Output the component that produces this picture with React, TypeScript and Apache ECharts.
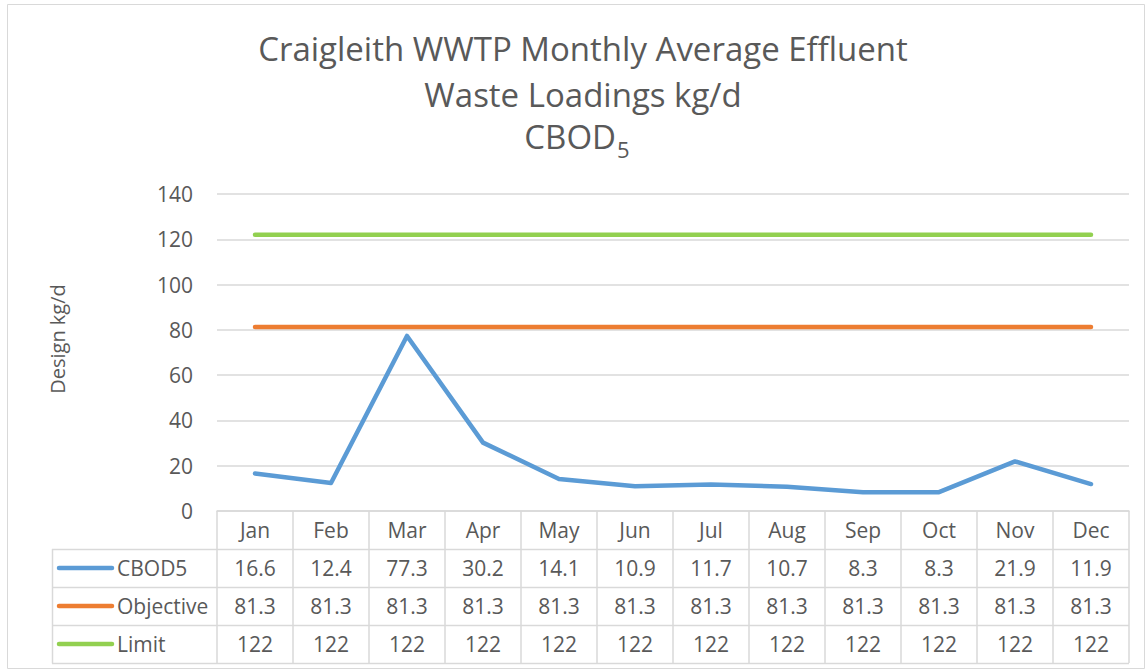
import React, { useEffect, useRef } from "react";
import * as echarts from "echarts";

const months = ["Jan", "Feb", "Mar", "Apr", "May", "Jun", "Jul", "Aug", "Sep", "Oct", "Nov", "Dec"];
const cbod5 = [16.6, 12.4, 77.3, 30.2, 14.1, 10.9, 11.7, 10.7, 8.3, 8.3, 21.9, 11.9];
const objective = [81.3, 81.3, 81.3, 81.3, 81.3, 81.3, 81.3, 81.3, 81.3, 81.3, 81.3, 81.3];
const limit = [122, 122, 122, 122, 122, 122, 122, 122, 122, 122, 122, 122];
const seriesNames = ["CBOD5", "Objective", "Limit"];
const seriesColors = ["#5B9BD5", "#ED7D31", "#92D050"];
const yMin = 0;
const yMax = 140;
const yInterval = 20;
const titleLines = ["Craigleith WWTP Monthly Average Effluent", "Waste Loadings kg/d", "CBOD"];
const titleSub = "5";
const yAxisTitle = "Design kg/d";

const W = 1145;
const H = 670;
const FONT = "'Open Sans', 'Noto Sans', sans-serif";
const TXT = "#595959";
const BORDER = "#d9d9d9";
const FS = 21;

export default function App() {
  const ref = useRef<HTMLDivElement>(null);
  useEffect(() => {
    document.body.style.margin = "0";
    const chart = echarts.init(ref.current!, undefined, { renderer: "svg", width: W, height: H });
    const gridLeft = 217;
    const gridRight = 1129;
    const gridTop = 194;
    const gridBottom = 511;
    const rowH = 38;
    const allSeries = [cbod5, objective, limit];

    const rowAxes = allSeries.map((vals, k) => ({
      type: "category",
      gridIndex: 0,
      position: "bottom",
      offset: rowH * (k + 1),
      data: months,
      boundaryGap: true,
      axisLine: { show: false },
      axisTick: { show: false },
      splitLine: { show: false },
      axisLabel: {
        interval: 0,
        margin: 8,
        fontSize: FS,
        lineHeight: 22,
        color: TXT,
        fontFamily: FONT,
        formatter: (_v: string, i: number) => String(vals[i]),
      },
    }));

    const graphics: any[] = [];
    graphics.push({
      type: "rect",
      shape: { x: 7.5, y: 4.5, width: W - 8, height: H - 6 },
      style: { fill: "none", stroke: BORDER, lineWidth: 1 },
      silent: true,
    });
    // title
    const titleStyle = { fontSize: 33, fontFamily: FONT, fill: TXT, verticalAlign: "middle" };
    graphics.push({ type: "text", x: 583, y: 48, style: { ...titleStyle, text: titleLines[0], align: "center" }, silent: true });
    graphics.push({ type: "text", x: 583, y: 94, style: { ...titleStyle, text: titleLines[1], align: "center" }, silent: true });
    graphics.push({ type: "text", x: 616, y: 136, style: { ...titleStyle, text: titleLines[2], align: "right" }, silent: true });
    graphics.push({
      type: "text",
      x: 617,
      y: 149,
      style: { fontSize: 22, fontFamily: FONT, fill: TXT, verticalAlign: "middle", align: "left", text: titleSub },
      silent: true,
    });
    // y axis title
    graphics.push({
      type: "text",
      x: 57,
      y: 339,
      rotation: Math.PI / 2,
      style: { text: yAxisTitle, fontSize: 20, fontFamily: FONT, fill: TXT, align: "center", verticalAlign: "middle" },
      silent: true,
    });
    // table horizontal lines
    [gridBottom + rowH, gridBottom + rowH * 2, gridBottom + rowH * 3, gridBottom + rowH * 4].forEach((y) => {
      graphics.push({
        type: "line",
        shape: { x1: 52, y1: y + 0.5, x2: gridRight, y2: y + 0.5 },
        style: { stroke: BORDER, lineWidth: 1.5 },
        silent: true,
      });
    });
    graphics.push({
      type: "line",
      shape: { x1: 52.5, y1: gridBottom + rowH, x2: 52.5, y2: gridBottom + rowH * 4 + 0.5 },
      style: { stroke: BORDER, lineWidth: 1.5 },
      silent: true,
    });
    seriesNames.forEach((name, k) => {
      const cy = gridBottom + rowH * (k + 1) + rowH / 2;
      graphics.push({
        type: "line",
        shape: { x1: 59, y1: cy, x2: 112, y2: cy },
        style: { stroke: seriesColors[k], lineWidth: 4.5, lineCap: "round" },
        silent: true,
      });
      graphics.push({
        type: "text",
        x: 117,
        y: cy,
        style: { text: name, fontSize: FS, fontFamily: FONT, fill: TXT, align: "left", verticalAlign: "middle" },
        silent: true,
      });
    });

    chart.setOption({
      animation: false,
      grid: { left: gridLeft, right: W - gridRight, top: gridTop, bottom: H - gridBottom, containLabel: false },
      xAxis: [
        {
          type: "category",
          data: months,
          boundaryGap: true,
          axisLine: { show: true, lineStyle: { color: BORDER, width: 1.5 } },
          axisTick: { show: true, interval: 0, length: rowH * 4, lineStyle: { color: BORDER, width: 1.5 } },
          axisLabel: { interval: 0, margin: 8, fontSize: FS, lineHeight: 22, color: TXT, fontFamily: FONT },
          splitLine: { show: false },
        },
        ...rowAxes,
      ],
      yAxis: {
        type: "value",
        min: yMin,
        max: yMax,
        interval: yInterval,
        axisLine: { show: false },
        axisTick: { show: false },
        axisLabel: { margin: 24, fontSize: FS, color: TXT, fontFamily: FONT },
        splitLine: { show: true, lineStyle: { color: BORDER, width: 1.5 } },
      },
      series: allSeries.map((vals, k) => ({
        type: "line",
        name: seriesNames[k],
        data: vals,
        xAxisIndex: 0,
        symbol: "none",
        lineStyle: { color: seriesColors[k], width: 4.5, cap: "round", join: "round" },
        itemStyle: { color: seriesColors[k] },
      })),
      graphic: graphics,
    });
    return () => chart.dispose();
  }, []);
  return <div ref={ref} style={{ width: W, height: H, background: "#fff" }} />;
}
